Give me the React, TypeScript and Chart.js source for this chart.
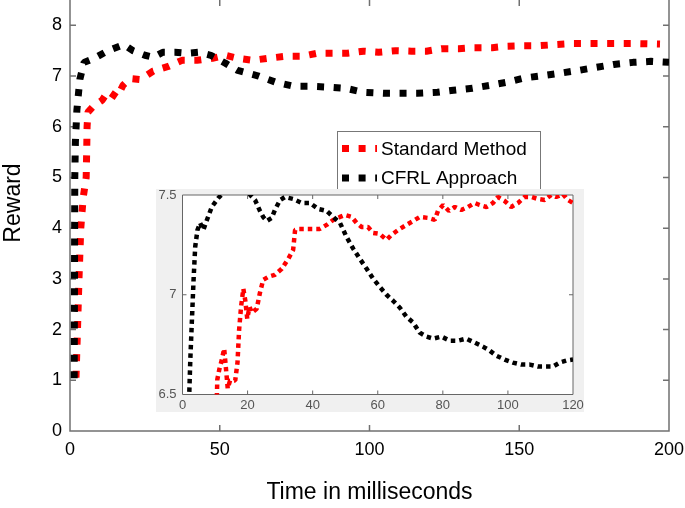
import React, { useEffect, useRef } from 'react';
import { Chart, registerables } from 'chart.js';

Chart.register(...registerables);

const FONT = "'Liberation Sans', Arial, Helvetica, sans-serif";

// ---- main plot data ----
const standardTime = [2.0, 2.5, 3.0, 3.6, 4.4, 5.4, 5.6, 5.7, 6.0, 7.7, 10.7, 12.7, 15.7, 17.7, 20, 23.4, 27.8, 32.8, 37.4, 42.4, 47.5, 51.8, 56, 61, 66, 72, 77.6, 82.6, 87.6, 92.6, 98, 103, 108.7, 114, 119, 124, 129.8, 135, 141, 146, 151.5, 157, 162, 168, 173, 179, 184.6, 190, 197];
const standardReward = [1.05, 2.0, 3.0, 4.0, 4.6, 5.0, 5.6, 6.0, 6.29, 6.4, 6.52, 6.7, 6.58, 6.82, 6.95, 6.93, 7.1, 7.19, 7.31, 7.31, 7.35, 7.41, 7.35, 7.31, 7.35, 7.39, 7.39, 7.45, 7.45, 7.45, 7.49, 7.47, 7.5, 7.49, 7.49, 7.54, 7.54, 7.56, 7.56, 7.59, 7.6, 7.6, 7.62, 7.64, 7.64, 7.64, 7.64, 7.64, 7.63];

const cfrlTime = [1.4, 1.5, 1.6, 1.8, 2.3, 3.3, 4.7, 8.4, 12.7, 18, 21, 25, 27.8, 31, 35, 39, 43, 47, 52, 56, 63, 68.6, 74.6, 80, 87, 92, 98, 104.7, 110, 116, 122.7, 128, 134.4, 140.5, 146, 151.5, 158, 164, 169.6, 175.6, 181.6, 188, 194, 200];
const cfrlReward = [1.04, 3.0, 5.0, 5.7, 6.33, 6.94, 7.27, 7.36, 7.5, 7.62, 7.5, 7.41, 7.37, 7.47, 7.47, 7.45, 7.47, 7.41, 7.25, 7.11, 7.0, 6.88, 6.8, 6.8, 6.78, 6.76, 6.68, 6.66, 6.66, 6.66, 6.68, 6.72, 6.76, 6.82, 6.88, 6.96, 7.01, 7.06, 7.11, 7.17, 7.23, 7.27, 7.29, 7.27];

// ---- inset data ----
const insetStandardTime = [10.4, 10.7, 11.3, 12.1, 12.8, 13.3, 13.9, 14.6, 16.2, 16.9, 17.4, 18, 18.7, 19.3, 19.9, 20.6, 21.3, 22.8, 23.8, 24.8, 26.4, 28.4, 30.5, 32.5, 34, 34.6, 35.6, 38.2, 40.2, 42.2, 44.3, 46.3, 48.4, 49.9, 52, 53.5, 55, 57, 58.6, 60.6, 62.7, 64.2, 66.3, 68.8, 71.4, 72.9, 75.5, 77.5, 78.5, 80.1, 81.9, 83.7, 85.7, 87.7, 89.8, 91.3, 93.4, 95.4, 96.9, 99, 101, 103.1, 105.1, 107.2, 109.2, 111.3, 113.3, 114.8, 116.9, 118.4, 120];
const insetStandardReward = [6.4, 6.575, 6.625, 6.675, 6.73, 6.64, 6.53, 6.57, 6.57, 6.66, 6.825, 6.94, 7.03, 6.97, 6.88, 6.94, 6.91, 6.93, 7.01, 7.075, 7.09, 7.1, 7.13, 7.18, 7.225, 7.325, 7.33, 7.33, 7.33, 7.33, 7.35, 7.375, 7.39, 7.4, 7.39, 7.36, 7.34, 7.34, 7.31, 7.305, 7.275, 7.3, 7.325, 7.35, 7.375, 7.39, 7.385, 7.375, 7.42, 7.45, 7.42, 7.44, 7.425, 7.44, 7.46, 7.45, 7.44, 7.46, 7.49, 7.47, 7.44, 7.46, 7.49, 7.49, 7.48, 7.475, 7.5, 7.49, 7.505, 7.475, 7.46];

const insetCfrlTime = [1.7, 2.4, 2.9, 3.4, 3.9, 4.6, 5.4, 6.4, 7.5, 9, 11, 13.1, 15, 17.5, 20, 20.8, 22.3, 23.8, 24.8, 25.9, 27.4, 28.4, 30, 31.5, 34, 36.6, 39.2, 41.7, 44.3, 46.3, 48.4, 50.4, 52.5, 54.5, 56.6, 58.6, 60.6, 62.7, 64.7, 66.8, 68.8, 70.9, 72.9, 75, 77, 79.6, 82.1, 84.7, 87.2, 89.8, 92.3, 94.4, 96.4, 99, 101.5, 104.1, 106.7, 109.2, 111.8, 113.8, 115.9, 117.9, 120];
const insetCfrlReward = [6.3, 6.675, 6.875, 7.075, 7.24, 7.325, 7.36, 7.325, 7.375, 7.44, 7.485, 7.52, 7.58, 7.62, 7.54, 7.5, 7.475, 7.42, 7.39, 7.37, 7.385, 7.425, 7.475, 7.49, 7.48, 7.46, 7.46, 7.43, 7.42, 7.39, 7.36, 7.29, 7.23, 7.18, 7.13, 7.08, 7.04, 7.0, 6.97, 6.935, 6.89, 6.86, 6.81, 6.79, 6.78, 6.79, 6.77, 6.77, 6.78, 6.76, 6.74, 6.72, 6.695, 6.675, 6.66, 6.65, 6.65, 6.64, 6.64, 6.64, 6.66, 6.67, 6.675];

const seriesLabels = ['Standard Method', 'CFRL Approach'];
const seriesColors = ['#ff0000', '#000000'];
const xTitle = 'Time in milliseconds';
const yTitle = 'Reward';

const zip = (xs: number[], ys: number[]) => xs.map((x, i) => ({ x, y: ys[i] }));

function makeBoxPlugin(id: string, color: string, lw: number, len: number, drawTop: boolean, bg?: string) {
  return {
    id,
    beforeDraw(chart: any) {
      if (!bg) return;
      const { ctx, chartArea } = chart;
      ctx.save();
      ctx.fillStyle = bg;
      ctx.fillRect(0, 0, chart.width, chart.height);
      ctx.fillStyle = '#ffffff';
      ctx.fillRect(chartArea.left, chartArea.top, chartArea.right - chartArea.left, chartArea.bottom - chartArea.top);
      ctx.restore();
    },
    beforeDatasetsDraw(chart: any) {
      const { ctx, chartArea, scales } = chart;
      const { left, right, top, bottom } = chartArea;
      ctx.save();
      ctx.strokeStyle = color;
      ctx.lineWidth = lw;
      ctx.beginPath();
      ctx.moveTo(left, top);
      ctx.lineTo(left, bottom);
      ctx.lineTo(right, bottom);
      ctx.lineTo(right, top);
      if (drawTop) ctx.lineTo(left, top);
      for (const t of scales.x.ticks) {
        const px = scales.x.getPixelForValue(t.value);
        if (px <= left + 1 || px >= right - 1) continue;
        ctx.moveTo(px, bottom);
        ctx.lineTo(px, bottom - len);
        ctx.moveTo(px, top);
        ctx.lineTo(px, top + len);
      }
      for (const t of scales.y.ticks) {
        const py = scales.y.getPixelForValue(t.value);
        if (py <= top + 1 || py >= bottom - 1) continue;
        ctx.moveTo(left, py);
        ctx.lineTo(left + len, py);
        ctx.moveTo(right, py);
        ctx.lineTo(right - len, py);
      }
      ctx.stroke();
      ctx.restore();
    },
  };
}

const legendPlugin = {
  id: 'boxLegend',
  afterDraw(chart: any) {
    const { ctx } = chart;
    const bx = 337, by = 131, bw = 203, bh = 70;
    ctx.save();
    ctx.fillStyle = '#ffffff';
    ctx.fillRect(bx, by, bw, bh);
    ctx.strokeStyle = '#777';
    ctx.lineWidth = 1;
    ctx.strokeRect(bx + 0.5, by + 0.5, bw, bh);
    const rows = [148.5, 178];
    chart.data.datasets.forEach((ds: any, i: number) => {
      const y = rows[i];
      ctx.strokeStyle = ds.borderColor;
      ctx.lineWidth = 7;
      ctx.setLineDash([7, 9.6]);
      ctx.beginPath();
      ctx.moveTo(342, y);
      ctx.lineTo(377, y);
      ctx.stroke();
      ctx.setLineDash([]);
      ctx.fillStyle = '#000';
      ctx.font = `19px ${FONT}`;
      ctx.textBaseline = 'middle';
      ctx.textAlign = 'left';
      ctx.fillText(ds.label, 381, y + 1);
    });
    // y-axis title (placed as in the reference, slightly above the axis middle)
    ctx.translate(14, 203);
    ctx.rotate(-Math.PI / 2);
    ctx.font = `23px ${FONT}`;
    ctx.fillStyle = '#000';
    ctx.textAlign = 'center';
    ctx.textBaseline = 'middle';
    ctx.fillText(yTitle, 0, 0);
    ctx.restore();
  },
};

const noPadX = (h: number) => (s: any) => { s.height = h; s.paddingLeft = 0; s.paddingRight = 0; };
const noPadY = (w: number) => (s: any) => { s.width = w; s.paddingTop = 0; s.paddingBottom = 0; };

export default function App() {
  const mainRef = useRef<HTMLCanvasElement>(null);
  const insetRef = useRef<HTMLCanvasElement>(null);

  useEffect(() => {
    const main = new Chart(mainRef.current!, {
      type: 'line',
      data: {
        datasets: [
          {
            label: seriesLabels[0],
            data: zip(standardTime, standardReward),
            borderColor: seriesColors[0],
            borderWidth: 7,
            borderDash: [7, 9.6],
            borderJoinStyle: 'bevel',
            pointRadius: 0,
            tension: 0,
            fill: false,
            order: 1,
          },
          {
            label: seriesLabels[1],
            data: zip(cfrlTime, cfrlReward),
            borderColor: seriesColors[1],
            borderWidth: 7,
            borderDash: [7, 9.6],
            borderJoinStyle: 'bevel',
            pointRadius: 0,
            tension: 0,
            fill: false,
            order: 0,
          },
        ],
      },
      options: {
        responsive: false,
        animation: false,
        layout: { padding: { left: 0, right: 16, top: 0, bottom: 0 } },
        plugins: { legend: { display: false }, tooltip: { enabled: false } },
        scales: {
          x: {
            type: 'linear',
            min: 0,
            max: 200,
            ticks: { stepSize: 50, includeBounds: false, font: { family: FONT, size: 18 }, color: '#000', padding: 8, maxRotation: 0 },
            grid: { display: false, drawTicks: false },
            border: { display: false },
            title: { display: true, text: xTitle, font: { family: FONT, size: 23 }, color: '#000', padding: { top: 0, bottom: 2 } },
            afterFit: noPadX(77),
          },
          y: {
            type: 'linear',
            min: 0,
            max: 8.5,
            ticks: { stepSize: 1, includeBounds: false, font: { family: FONT, size: 18 }, color: '#000', padding: 8 },
            grid: { display: false, drawTicks: false },
            border: { display: false },
            afterFit: noPadY(70),
          },
        },
      } as any,
      plugins: [makeBoxPlugin('mainBox', '#707070', 1.5, 6, false), legendPlugin],
    });

    const inset = new Chart(insetRef.current!, {
      type: 'line',
      data: {
        datasets: [
          {
            label: seriesLabels[0],
            data: zip(insetStandardTime, insetStandardReward),
            borderColor: seriesColors[0],
            borderWidth: 4.5,
            borderDash: [4.5, 4],
            borderJoinStyle: 'bevel',
            pointRadius: 0,
            tension: 0,
            fill: false,
            clip: 0,
            order: 1,
          },
          {
            label: seriesLabels[1],
            data: zip(insetCfrlTime, insetCfrlReward),
            borderColor: seriesColors[1],
            borderWidth: 4.5,
            borderDash: [4.5, 4],
            borderJoinStyle: 'bevel',
            pointRadius: 0,
            tension: 0,
            fill: false,
            clip: 0,
            order: 0,
          },
        ],
      },
      options: {
        responsive: false,
        animation: false,
        layout: { padding: { left: 0, right: 11, top: 6, bottom: 0 } },
        plugins: { legend: { display: false }, tooltip: { enabled: false } },
        scales: {
          x: {
            type: 'linear',
            min: 0,
            max: 120,
            ticks: { stepSize: 20, font: { family: FONT, size: 13 }, color: '#555', padding: 3, maxRotation: 0 },
            grid: { display: false, drawTicks: false },
            border: { display: false },
            afterFit: noPadX(17.5),
          },
          y: {
            type: 'linear',
            min: 6.5,
            max: 7.5,
            ticks: { stepSize: 0.5, font: { family: FONT, size: 13 }, color: '#555', padding: 6, callback: (v: any) => String(v) },
            grid: { display: false, drawTicks: false },
            border: { display: false },
            afterFit: noPadY(26.5),
          },
        },
      } as any,
      plugins: [makeBoxPlugin('insetBox', '#666', 1, 4, true, '#f0f0f0')],
    });

    return () => {
      main.destroy();
      inset.destroy();
    };
  }, []);

  return (
    <div style={{ position: 'absolute', left: 0, top: 0, width: 685, height: 508, background: '#fff' }}>
      <canvas ref={mainRef} width={685} height={508} style={{ position: 'absolute', left: 0, top: 0, width: 685, height: 508 }} />
      <canvas ref={insetRef} width={428} height={223} style={{ position: 'absolute', left: 156, top: 189, width: 428, height: 223 }} />
    </div>
  );
}
